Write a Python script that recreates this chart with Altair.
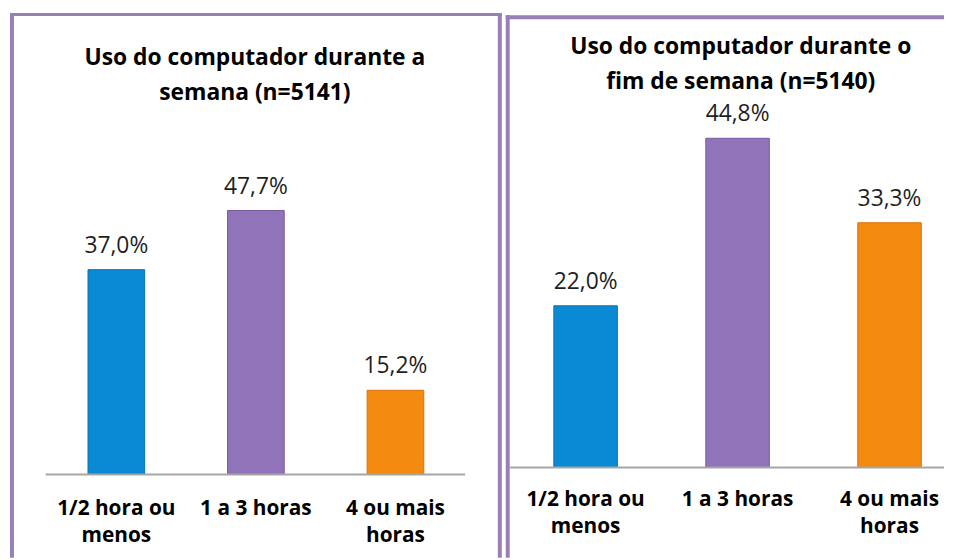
import altair as alt
import pandas as pd

categories = ["1/2 hora ou\nmenos", "1 a 3 horas", "4 ou mais\nhoras"]
semana_values = [37.0, 47.7, 15.2]
fimdesemana_values = [22.0, 44.8, 33.3]
titles = [
    "Uso do computador durante a\nsemana (n=5141)",
    "Uso do computador durante o\nfim de semana (n=5140)",
]
bar_colors = ["#0A8AD4", "#9173B9", "#F58A10"]
bar_edges = ["#0670B0", "#7458A0", "#D87208"]
border_color = "#9880B6"
FONT = "Open Sans"


def fmt(v):
    return f"{v:.1f}".replace(".", ",") + "%"


def panel(values, title, W, H, base_y, px_per, title_x, title_y, cat_y,
          p_inner, p_outer, align, rule_x, borders):
    df = pd.DataFrame({
        "cat": categories,
        "val": values,
        "label": [fmt(v) for v in values],
    })
    ydom = [-(H - base_y) / px_per, base_y / px_per]
    x = alt.X("cat:N", sort=categories, axis=None,
              scale=alt.Scale(paddingInner=p_inner, paddingOuter=p_outer, align=align))
    y = alt.Y("val:Q", axis=None, stack=None,
              scale=alt.Scale(domain=ydom, nice=False, zero=False))
    base = alt.Chart(df)
    one = base.transform_filter(alt.datum.cat == categories[1])

    bars = base.mark_bar(strokeWidth=1).encode(
        x=x, y=y,
        color=alt.Color("cat:N", sort=categories,
                        scale=alt.Scale(domain=categories, range=bar_colors), legend=None),
        stroke=alt.Stroke("cat:N", sort=categories,
                          scale=alt.Scale(domain=categories, range=bar_edges), legend=None),
    )
    baseline = one.mark_rule(color="#A6A6A6", strokeWidth=2).encode(
        y=alt.value(base_y), x=alt.value(rule_x[0]), x2=alt.value(rule_x[1])
    )
    vlabels = base.mark_text(baseline="alphabetic", dy=-17, fontSize=23,
                             font=FONT, color="#1F1F1F").encode(x=x, y=y, text="label:N")
    clabels = base.mark_text(baseline="alphabetic", lineBreak="\n", lineHeight=27,
                             fontSize=21, fontWeight="bold", font=FONT,
                             color="#000000").encode(x=x, y=alt.value(cat_y), text="cat:N")
    ttl = one.mark_text(baseline="alphabetic", align="center", lineBreak="\n",
                        lineHeight=35, fontSize=23, fontWeight="bold",
                        font=FONT, color="#000000").encode(
        x=alt.value(title_x), y=alt.value(title_y), text=alt.value(title))

    layers = [bars, baseline, vlabels, clabels, ttl]
    for (bx, bx2, by, by2, sw) in borders:
        enc = {"x": alt.value(bx), "y": alt.value(by)}
        if bx2 is not None:
            enc["x2"] = alt.value(bx2)
        if by2 is not None:
            enc["y2"] = alt.value(by2)
        layers.append(one.mark_rule(color=border_color, strokeWidth=sw).encode(**enc))

    return alt.layer(*layers).properties(width=W, height=H)


left = panel(semana_values, titles[0], 496, 552, 468, 5.58, 247, 55, 509,
             0.594, 0.559, 0.5, (36, 459),
             [(0, 496, 4.2, None, 3), (2, None, 3, 552, 4), (494, None, 3, 552, 4)])
right = panel(fimdesemana_values, titles[1], 442, 552, 461, 7.41, 237, 44, 500,
              0.582, 0.233, 0.679, (4, 442),
              [(0, 442, 7, None, 4), (2, None, 5, 552, 4)])

chart = alt.hconcat(left, right, spacing=0).properties(
    padding={"left": 0, "top": 0, "right": 0, "bottom": 0}
).configure_view(strokeWidth=0)

chart.save("out.html", embed_options={"renderer": "svg", "actions": False})
